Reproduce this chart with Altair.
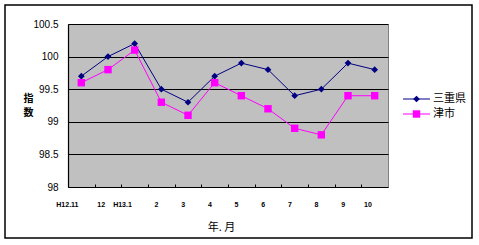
import altair as alt
import pandas as pd

months = ["H12.11", "12", "H13.1", "2", "3", "4", "5", "6", "7", "8", "9", "10"]
mie = [99.7, 100.0, 100.2, 99.5, 99.3, 99.7, 99.9, 99.8, 99.4, 99.5, 99.9, 99.8]
tsu = [99.6, 99.8, 100.1, 99.3, 99.1, 99.6, 99.4, 99.2, 98.9, 98.8, 99.4, 99.4]
series = ["三重県", "津市"]
colors = ["#000080", "#FF00FF"]
shapes = ["diamond", "square"]

rows = []
for i, m in enumerate(months):
    rows.append({"month": m, "series": series[0], "value": mie[i], "order": i})
    rows.append({"month": m, "series": series[1], "value": tsu[i], "order": i})
df = pd.DataFrame(rows)
leg_df = pd.DataFrame({"series": series})

x_enc = alt.X(
    "month:N",
    sort=months,
    scale=alt.Scale(type="point", padding=0.5),
    axis=alt.Axis(
        title="年. 月",
        titleFont="Noto Sans CJK JP",
        titleFontSize=11,
        titleFontWeight="normal",
        titlePadding=14,
        titleX=153,
        titleAlign="center",
        labelFont="Liberation Sans",
        labelFontSize=7,
        labelFontWeight="bold",
        labelAngle=0,
        labelAlign="right",
        labelOffset=10,
        labelPadding=13,
        tickOffset=-13.333,
        tickSize=3,
        tickColor="black",
        offset=-3,
        domain=False,
        grid=False,
        labelColor="black",
        titleColor="black",
    ),
)
y_scale = alt.Scale(domain=[98, 100.5], nice=False, zero=False)
y_enc = alt.Y(
    "value:Q",
    scale=y_scale,
    axis=alt.Axis(
        values=[98, 98.5, 99, 99.5, 100, 100.5],
        format="~f",
        grid=True,
        gridColor="black",
        gridWidth=1.2,
        gridOpacity=1,
        domain=True,
        domainColor="black",
        domainWidth=1.2,
        ticks=False,
        labelPadding=10,
        labelFont="Liberation Sans",
        labelFontSize=10,
        labelColor="black",
        title=["指", "数"],
        titleAngle=0,
        titleX=-40,
        titleY=69,
        titleAlign="center",
        titleBaseline="top",
        titleFont="Noto Sans CJK JP",
        titleFontSize=10,
        titleFontWeight="bold",
        titleLineHeight=14.5,
        titleColor="black",
    ),
)
color_enc = alt.Color("series:N", scale=alt.Scale(domain=series, range=colors), legend=None)
shape_enc = alt.Shape("series:N", scale=alt.Scale(domain=series, range=shapes), legend=None)
size_enc = alt.Size("series:N", scale=alt.Scale(domain=series, range=[45, 55]), legend=None)

base = alt.Chart(df)
lines = base.mark_line(strokeWidth=1).encode(
    x=x_enc, y=y_enc, color=color_enc, order="order:Q"
)
points = base.mark_point(filled=True, opacity=1).encode(
    x=x_enc,
    y=alt.Y("value:Q", scale=y_scale, axis=None),
    color=color_enc,
    shape=shape_enc,
    size=size_enc,
)

# manual legend entries
leg_y = alt.Y(
    "series:N", sort=series,
    scale=alt.Scale(type="point", domain=series, range=[75, 90], padding=0),
    axis=None,
)
leg_rules = alt.Chart(leg_df).mark_rule(strokeWidth=1).encode(
    x=alt.value(335), x2=alt.value(362), y=leg_y, color=color_enc
)
leg_pts = alt.Chart(leg_df).mark_point(filled=True, opacity=1).encode(
    x=alt.value(348.5), y=leg_y, color=color_enc, shape=shape_enc, size=size_enc
)
leg_txt = alt.Chart(leg_df).mark_text(
    align="left", baseline="middle", font="Noto Sans CJK JP", fontSize=11, color="black"
).encode(x=alt.value(365), y=leg_y, text="series:N")

# native legend used only for its black frame (contents hidden)
leg_frame = alt.Chart(leg_df).mark_point(opacity=0).encode(
    x=alt.value(0),
    y=alt.value(0),
    fill=alt.Fill(
        "series:N",
        scale=alt.Scale(domain=series, range=colors),
        legend=alt.Legend(
            title=None,
            orient="none",
            legendX=331,
            legendY=66,
            padding=4,
            strokeColor="black",
            symbolSize=1,
            symbolOpacity=0,
            symbolStrokeWidth=0,
            labelOpacity=0,
            labelFont="Noto Sans CJK JP",
            labelFontSize=11,
            labelOffset=27,
            rowPadding=2,
        ),
    ),
)

border = alt.Chart(alt.Data(values=[{"a": 1}])).mark_rect(
    fill=None, stroke="black", strokeWidth=1.5
).encode(x=alt.value(-63), x2=alt.value(404), y=alt.value(-19), y2=alt.value(214))

chart = (
    alt.layer(lines, points, leg_rules, leg_pts, leg_txt, leg_frame, border)
    .resolve_scale(y="independent")
    .properties(
        width=320,
        height=163,
        autosize=alt.AutoSizeParams(type="none"),
        padding={"left": 68, "top": 24, "right": 91, "bottom": 58},
        background="white",
    )
    .configure_view(fill="#C0C0C0", stroke="#808080", strokeWidth=1)
)

chart.save("out.html", embed_options={"renderer": "svg", "actions": False})
